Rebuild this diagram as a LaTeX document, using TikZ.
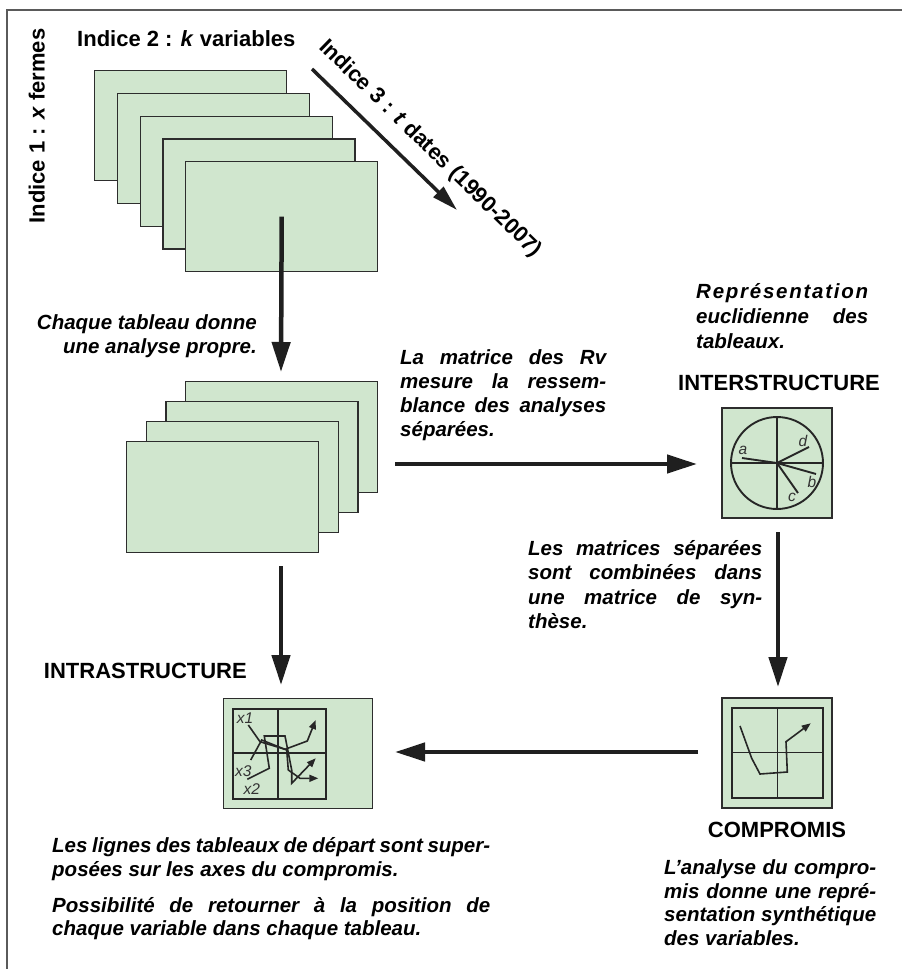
\documentclass[tikz,border=0pt]{standalone}
\usepackage{fontspec}
\setmainfont{Liberation Sans}
\usetikzlibrary{arrows.meta}
\definecolor{sheetfill}{RGB}{208,230,206}
\definecolor{sheetedge}{RGB}{45,45,45}
\definecolor{framegray}{RGB}{90,90,90}
\newcommand{\jl}[2]{\makebox[#1][s]{#2}}
\begin{document}
\begin{tikzpicture}[x=1pt,y=-1pt,
  sheet/.style={draw=sheetedge,fill=sheetfill,line width=1.4pt,minimum width=192pt,inner sep=0pt,anchor=north west},
  bigarrow/.style={draw=black!88,line width=4.5pt,-{Triangle[length=30pt,width=18pt]}},
  diagarrow/.style={draw=black!88,line width=3.5pt,-{Triangle[length=26pt,width=14pt]}},
  thinline/.style={draw=black!85,line width=1.9pt},
  tinyarrow/.style={draw=black!85,line width=1.6pt,-{Triangle[length=9pt,width=7pt]}},
  bodytext/.style={font=\fontsize{20.5}{24}\selectfont\bfseries\itshape,inner sep=0pt},
  headtext/.style={font=\fontsize{22}{26}\selectfont\bfseries,inner sep=0pt},
  smalllbl/.style={font=\fontsize{15.5}{17}\selectfont\itshape,inner sep=0pt,text=black!80},
]
\useasboundingbox (0,0) rectangle (902,969);
\fill[white] (0,0) rectangle (902,969);
\draw[framegray,line width=1.5pt] (7,969) -- (7,10) -- (902,10);

% top stack
\foreach \i in {0,...,4} {
  \node[sheet,minimum height=110pt] (R\i) at ({94+22.75*\i},{70+22.75*\i}) {};
}
% middle stack
\foreach \i in {0,...,3} {
  \node[sheet,minimum height=111pt] (S\i) at ({185-19.7*\i},{381+20*\i}) {};
}

% headers
\node[headtext,anchor=base west] (t2) at (77,46) {Indice 2 : \textit{k} variables};
\node[headtext,anchor=base,rotate=90] (t1) at (44.5,126) {Indice 1 : \textit{x} fermes};
\coordinate (d1) at (312,69);
\coordinate (d2) at (457,210);
\draw[diagarrow] (d1) -- (d2);
\node[headtext,anchor=base,rotate=-44.2] (t3) at (426,153) {Indice 3 : \textit{t} dates (1990-2007)};

% arrow 1
\coordinate (a1e) at (281,372);
\draw[bigarrow] (R4.center) -- (a1e);
\node[bodytext,anchor=base east] (c1) at (257,329) {Chaque tableau donne};
\node[bodytext,anchor=base east] (c2) at (257,353) {une analyse propre.};

% interstructure
\node[sheet,anchor=center,minimum width=110pt,minimum height=110pt] (IB) at (777,463) {};
\draw[thinline] (IB.center) circle[radius=46pt];
\coordinate (ia) at (742,458);
\coordinate (id) at (809,447);
\coordinate (ib) at (816,474);
\coordinate (ic) at (798,493);
\draw[thinline] (777,417) -- (777,509);
\draw[thinline] (731,463) -- (823,463);
\draw[thinline] (ia) -- (IB.center) -- (id);
\draw[thinline] (IB.center) -- (ib);
\draw[thinline] (IB.center) -- (ic);
\node[smalllbl] (la) at (743,450) {a};
\node[smalllbl] (ld) at (803,441) {d};
\node[smalllbl] (lb) at (812,482) {b};
\node[smalllbl] (lc) at (792,497) {c};

\node[bodytext,anchor=base west] (r1) at (696,298) {\jl{172pt}{R\hfill e\hfill p\hfill r\hfill é\hfill s\hfill e\hfill n\hfill t\hfill a\hfill t\hfill i\hfill o\hfill n}};
\node[bodytext,anchor=base west] (r2) at (696,323) {\jl{172pt}{euclidienne des}};
\node[bodytext,anchor=base west] (r3) at (696,348) {tableaux.};
\node[headtext,anchor=base] (hinter) at (779,390) {INTERSTRUCTURE};

% arrow 2
\coordinate (a2s) at (395,464);
\coordinate (a2e) at (697,464);
\draw[bigarrow] (a2s) -- (a2e);
\node[bodytext,anchor=base west] (m1) at (400,364) {\jl{206pt}{La matrice des Rv}};
\node[bodytext,anchor=base west] (m2) at (400,388) {\jl{206pt}{mesure la ressem-}};
\node[bodytext,anchor=base west] (m3) at (400,412) {\jl{206pt}{blance des analyses}};
\node[bodytext,anchor=base west] (m4) at (400,436) {séparées.};

% arrow 4
\coordinate (a4s) at (778,532);
\coordinate (a4e) at (778,687);
\draw[bigarrow] (a4s) -- (a4e);
\node[bodytext,anchor=base west] (s1) at (528,555) {\jl{234pt}{Les matrices séparées}};
\node[bodytext,anchor=base west] (s2) at (528,579) {\jl{234pt}{sont combinées dans}};
\node[bodytext,anchor=base west] (s3) at (528,604) {\jl{234pt}{une matrice de syn-}};
\node[bodytext,anchor=base west] (s4) at (528,628) {thèse.};

% arrow 3
\coordinate (a3s) at (281,566);
\coordinate (a3e) at (281,685);
\draw[bigarrow] (a3s) -- (a3e);
\node[headtext,anchor=base east] (hintra) at (247,678) {INTRASTRUCTURE};

% compromis box
\node[sheet,anchor=center,minimum width=110pt,minimum height=110pt] (CB) at (777,753) {};
\draw[thinline] (732,708) rectangle (823,798);
\draw[thinline] (777.5,708) -- (777.5,798);
\draw[thinline] (732,752.5) -- (823,752.5);
\draw[tinyarrow] (740,726) -- (751.7,758.3) -- (760,774) -- (787.3,772) -- (786,741.7) -- (810.7,723.3);
\node[headtext,anchor=base] (hcomp) at (777,837) {COMPROMIS};

% arrow 5
\coordinate (a5s) at (698,752);
\coordinate (a5e) at (395,752);
\draw[bigarrow] (a5s) -- (a5e);

% intrastructure box
\node[sheet,anchor=north west,minimum width=149pt,minimum height=110pt] (TB) at (223,698) {};
\draw[thinline] (233,709) rectangle (326,799);
\draw[thinline] (278.3,709) -- (278.3,799);
\draw[thinline] (233,752.7) -- (326,752.7);
\draw[tinyarrow] (248.3,725) -- (260,741.7) -- (285,749.3) -- (307.3,741) -- (315.7,720);
\draw[tinyarrow] (250.7,760) -- (261.7,740) -- (286.7,750) -- (288.3,770) -- (300,778.3) -- (318.3,778.3);
\draw[tinyarrow] (247.3,779.3) -- (269.3,768.3) -- (264.3,736) -- (285,736) -- (291.7,770) -- (291.7,783.3) -- (315.7,758.3);
\node[smalllbl] (lx1) at (245,718.3) {x1};
\node[smalllbl] (lx3) at (243.3,771) {x3};
\node[smalllbl] (lx2) at (251.7,789.3) {x2};

% bottom texts
\node[bodytext,anchor=base west] (b1) at (52,852) {\jl{438pt}{Les lignes des tableaux de départ sont super-}};
\node[bodytext,anchor=base west] (b2) at (52,876) {posées sur les axes du compromis.};
\node[bodytext,anchor=base west] (b3) at (52,912) {\jl{438pt}{Possibilité de retourner à la position de}};
\node[bodytext,anchor=base west] (b4) at (52,935) {chaque variable dans chaque tableau.};

\node[bodytext,anchor=base west] (p1) at (664,874) {\jl{212pt}{L'analyse du compro-}};
\node[bodytext,anchor=base west] (p2) at (664,898) {\jl{212pt}{mis donne une repré-}};
\node[bodytext,anchor=base west] (p3) at (664,921) {\jl{212pt}{sentation synthétique}};
\node[bodytext,anchor=base west] (p4) at (664,945) {des variables.};
\end{tikzpicture}
\end{document}
